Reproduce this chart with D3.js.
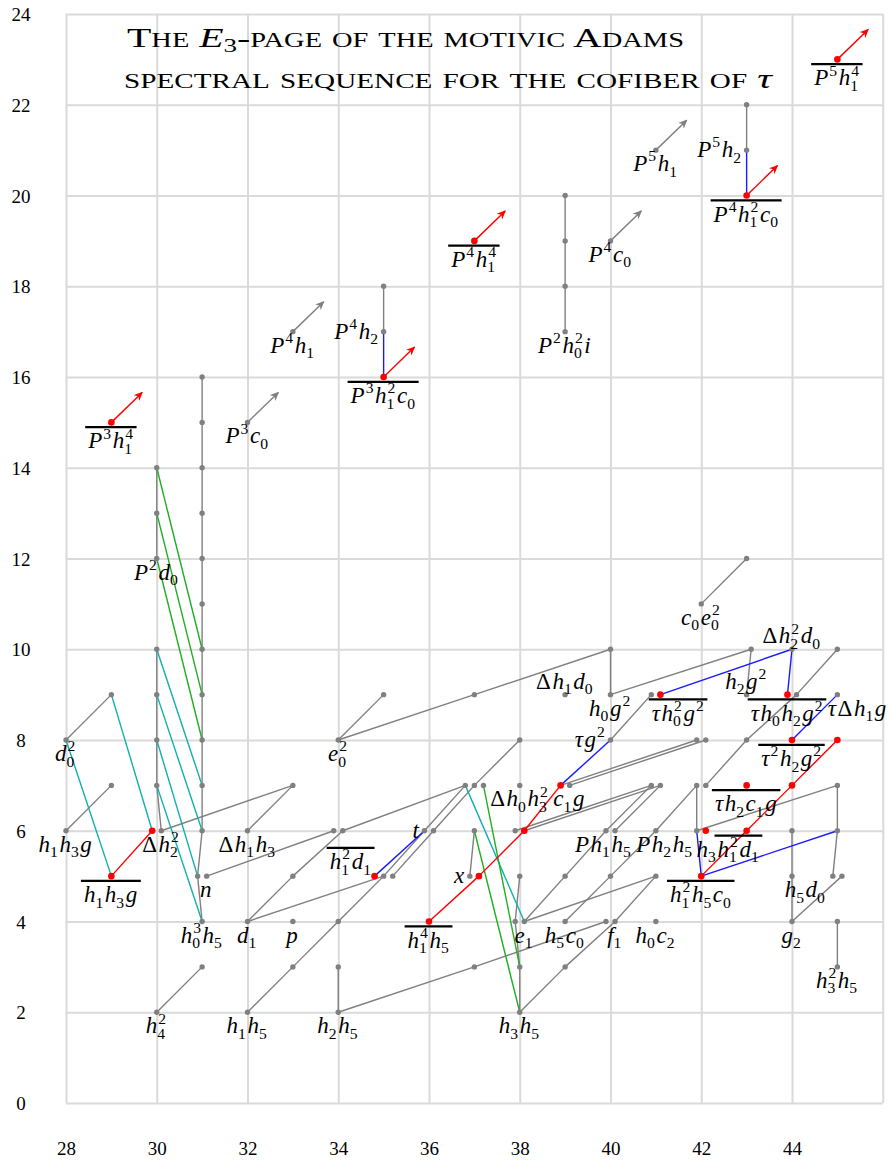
<!DOCTYPE html>
<html>
<head>
<meta charset="utf-8">
<script src="https://cdn.jsdelivr.net/npm/d3@7"></script>
<style>
  body { margin: 0; background: #fff; }
  svg { display: block; }
</style>
</head>
<body>
<div id="chart"></div>
<script>
// ---- data: (stem, filtration) ----
var xTicks = [28, 30, 32, 34, 36, 38, 40, 42, 44];
var yTicks = [0, 2, 4, 6, 8, 10, 12, 14, 16, 18, 20, 22, 24];
var gridX = [28, 30, 32, 34, 36, 38, 40, 42, 44, 46];

var grayDots = [
  [28,8],[28,6],[29,9],[29,7],
  [30,7],[30,8],[30,9],[30,10],[30.1,6],[30,12],[30,13],[30,14],[30,2],
  [31,3],[31,4],[30.9,5],[31.1,5],[31,6],[31,7],[31,8],[31,9],[31,10],[31,11],[31,12],[31,13],[31,14],[31,15],[31,16],
  [32,2],[32,4],[32,6],[32,15],
  [33,3],[33,4],[33,5],[33,7],[33,17],
  [34,2],[34,3],[34,4],[33.9,6],[34.1,6],[34,8],
  [35,5],[35.2,5],[35,9],[35,17],[35,18],
  [35.9,6],[36.1,6],
  [36.8,7],[37,7],[37.2,7],[37,6],[36.9,5],[37,3],[37,9],
  [38,2],[38,3],[37.9,4],[38.1,4],[38,5],[37.9,6],[38,7],[38,8],
  [39,3],[39,4],[39,5],[39.1,7],[39,9],[39,17],[39,18],[39,19],[39,20],
  [39.9,4],[40.1,4],[40,5],[39.9,6],[40.1,6],[40,8],[40,9],[40,10],[40,19],
  [41,4],[41,5],[41,6],[40.9,7],[41.1,7],[40.9,9],[41,21],
  [41.9,6],[41.9,7],[42.1,7],[41.9,8],[42.1,8],[42,11],
  [43,8],[43,9],[43.1,10],[43,12],[43,21],[43,22],
  [44,4],[44,5],[44,6],[44.1,9],[44,10],
  [45,3],[45,4],[44.9,5],[45.1,5],[45,6],[45,7],[45,9],[45,10]
];
var redDots = [
  [29,5],[29,15],[29.9,6],[34.8,5],[35,16],[36,4],[37.1,5],[37,19],[38.1,6],[38.9,7],
  [41.1,9],[42,5],[42.1,6],[43,6],[43,7],[43,20],[44,7],[44,8],[43.9,9],[45,8],[45,23]
];
var grayArrows = [[32,15],[33,17],[40,19],[41,21]];
var redArrows = [[29,15],[35,16],[37,19],[43,20],[45,23]];

// h0 towers
var h0Lines = [
  [[30.1,6],[30,7]],[[30,7],[30,8]],[[30,8],[30,9]],[[30,9],[30,10]],
  [[30,12],[30,13]],[[30,13],[30,14]],
  [[31,4],[30.9,5]],[[30.9,5],[31,6]],[[31,6],[31,7]],[[31,7],[31,8]],[[31,8],[31,9]],[[31,9],[31,10]],
  [[31,10],[31,11]],[[31,11],[31,12]],[[31,12],[31,13]],[[31,13],[31,14]],[[31,14],[31,15]],[[31,15],[31,16]],
  [[34,2],[34,3]],[[35,17],[35,18]],
  [[38,2],[38,3]],[[38,3],[37.9,4]],[[37.9,4],[38,5]],[[36.9,5],[37,6]],
  [[39,17],[39,18]],[[39,18],[39,19]],[[39,19],[39,20]],
  [[40,9],[40,10]],[[43,21],[43,22]],[[43,9],[43.1,10]],[[41.9,6],[41.9,7]],
  [[44,4],[44,5]],[[44,5],[44,6]],[[45,3],[45,4]],[[44.9,5],[45,6]],[[45,6],[45,7]]
];
// h1 multiplications
var h1Lines = [
  [[28,8],[29,9]],[[28,6],[29,7]],[[30,2],[31,3]],
  [[32,2],[33,3]],[[33,3],[34,4]],[[34,4],[35,5]],[[35,5],[35.9,6]],[[35.9,6],[36.8,7]],
  [[35.2,5],[36.1,6]],[[36.1,6],[37,7]],[[37,7],[38,8]],
  [[32,4],[33,5]],[[33,5],[34.1,6]],[[32,6],[33,7]],[[34,8],[35,9]],
  [[38,2],[39,3]],[[39,3],[40.1,4]],[[40.1,4],[41,5]],
  [[38.1,4],[39,5]],[[39,5],[39.9,6]],[[39,4],[40,5]],[[40,5],[41,6]],[[41,6],[41.9,7]],
  [[40,8],[40.9,9]],[[42,11],[43,12]],[[42.1,7],[43,8]],[[43,8],[44.1,9]],[[44.1,9],[45,10]],
  [[44,4],[45.1,5]],[[39.9,6],[40.9,7]],[[40.1,6],[41.1,7]]
];
// h2 multiplications
var h2Lines = [
  [[30.1,6],[33,7]],[[31.1,5],[33.9,6]],[[32,4],[35,5]],[[34.1,6],[36.8,7]],
  [[34,8],[37,9]],[[37,9],[40,10]],[[34,2],[37,3]],[[37,3],[39.9,4]],[[38.1,4],[41,5]],
  [[37.9,6],[40.9,7]],[[38.1,6],[41.1,7]],[[38.9,7],[41.9,8]],[[39.1,7],[42.1,8]],
  [[40,9],[43.1,10]],[[41.9,6],[45,7]]
];
var blueLines = [
  [[35,16],[35,17]],[[43,20],[43,21]],[[34.8,5],[35.9,6]],[[38.9,7],[40,8]],
  [[41.1,9],[44,10]],[[43.9,9],[44,10]],[[44,8],[45,9]],[[42,5],[41.9,6]],[[42,5],[45,6]]
];
var redLines = [
  [[29,5],[29.9,6]],[[36,4],[37.1,5]],[[37.1,5],[38.1,6]],[[38.1,6],[38.9,7]],
  [[42,5],[43,6]],[[43,6],[44,7]],[[44,7],[45,8]]
];
var d3Lines = [
  [[28,8],[29,5]],[[29,9],[29.9,6]],[[30,10],[31,7]],[[30,9],[31,6]],[[30,8],[30.9,5]],[[30,7],[31,4]],
  [[36.8,7],[38.1,4]]
];
var d4Lines = [
  [[30,12],[31,8]],[[30,13],[31,9]],[[30,14],[31,10]],[[37,6],[38,2]],[[37.2,7],[38,3]]
];

// labels: stem, filtration, name, side
var labels = [
  [28,8,'d_0^2','b'],[28,6,'h_1h_3g','b'],[29,5,'\\overline{h_1h_3g}','b'],[29,15,'\\overline{P^3h_1^4}','b'],
  [30.1,6,'\\Delta h_2^2','b'],[30,12,'P^2d_0','b'],[30,2,'h_4^2','b'],[31,4,'h_0^3h_5','b'],[31.1,5,'n','b'],
  [32,2,'h_1h_5','b'],[32,4,'d_1','b'],[32,6,'\\Delta h_1h_3','b'],[32,15,'P^3c_0','b'],
  [33,4,'p','b'],[33,17,'P^4h_1','b'],[34,2,'h_2h_5','b'],[34,8,'e_0^2','b'],
  [34.8,5,'\\overline{h_1^2d_1}','ul'],[35,17,'P^4h_2','l'],[35,16,'\\overline{P^3h_1^2c_0}','b'],
  [35.9,6,'t','l'],[36,4,'\\overline{h_1^4h_5}','b'],[36.9,5,'x','l'],[37,19,'\\overline{P^4h_1^4}','b'],
  [38,7,'\\Delta h_0h_3^2','b'],[39.1,7,'c_1g','b'],[38,2,'h_3h_5','b'],[38.1,4,'e_1','b'],
  [39,4,'h_5c_0','b'],[39,9,'\\Delta h_1d_0','a'],[39,17,'P^2h_0^2i','b'],
  [40.1,4,'f_1','b'],[39.85,6,'Ph_1h_5','b'],[41.2,6,'Ph_2h_5','b'],[40,8,'\\tau g^2','l'],
  [40,9,'h_0g^2','b'],[40,19,'P^4c_0','b'],[41,4,'h_0c_2','b'],[41.5,9,'\\overline{\\tau h_0^2g^2}','b'],
  [41,21,'P^5h_1','b'],[42,5,'\\overline{h_1^2h_5c_0}','b'],[42.6,6,'h_3\\overline{h_1^2d_1}','b'],
  [42,11,'c_0e_0^2','b'],[43,7,'\\overline{\\tau h_2c_1g}','b'],[43,9,'h_2g^2','a'],
  [43,20,'\\overline{P^4h_1^2c_0}','b'],[43,21,'P^5h_2','l'],[44,4,'g_2','b'],[44.3,5,'h_5d_0','b'],
  [44,8,'\\overline{\\tau^2h_2g^2}','b'],[43.9,9,'\\overline{\\tau h_0h_2g^2}','b'],[44,10,'\\Delta h_2^2d_0','a'],
  [45,3,'h_3^2h_5','b'],[45.45,9,'\\tau\\Delta h_1g','b'],[45,23,'\\overline{P^5h_1^4}','b']
];

// ---- drawing ----
var W = 892, H = 1163;
var x = d3.scaleLinear().domain([28, 46]).range([66, 882.75]);
var y = d3.scaleLinear().domain([0, 24]).range([1103, 14]);
var FONT = '"Liberation Serif", "DejaVu Serif", serif';
var gridColor = '#dadada';
var grayC = '#808080', redC = '#ff0000', blueC = '#1a1aff', cyanC = '#10b0b0', greenC = '#22b022';

var svg = d3.select('#chart').append('svg')
  .attr('width', W).attr('height', H)
  .style('font-family', FONT);

// grid + tick labels via axes
svg.append('g')
  .attr('transform', 'translate(0,' + y(0) + ')')
  .call(d3.axisBottom(x).tickValues(gridX).tickSize(-(y(0) - y(24))).tickFormat(d => d < 46 ? d : ''))
  .call(g => g.select('.domain').remove())
  .call(g => g.selectAll('.tick line').attr('stroke', gridColor).attr('stroke-width', 2))
  .call(g => g.selectAll('.tick text').attr('y', 45).attr('dy', '0.35em')
      .attr('font-size', 19).attr('font-family', FONT).attr('fill', '#000'));

svg.append('g')
  .attr('transform', 'translate(' + x(28) + ',0)')
  .call(d3.axisLeft(y).tickValues(yTicks).tickSize(-(x(46) - x(28))))
  .call(g => g.select('.domain').remove())
  .call(g => g.selectAll('.tick line').attr('stroke', gridColor).attr('stroke-width', 2))
  .call(g => g.selectAll('.tick text').attr('x', -45).attr('text-anchor', 'middle').attr('dy', '0.35em')
      .attr('font-size', 19).attr('font-family', FONT).attr('fill', '#000'));

// arrow markers
var defs = svg.append('defs');
[['ag', grayC], ['ar', redC]].forEach(function(m) {
  defs.append('marker').attr('id', m[0]).attr('viewBox', '0 -5 10 10')
    .attr('refX', 9).attr('refY', 0).attr('markerWidth', 9).attr('markerHeight', 9)
    .attr('markerUnits', 'userSpaceOnUse').attr('orient', 'auto')
    .append('path').attr('d', 'M0,-4.5L10,0L0,4.5L3,0Z').attr('fill', m[1]);
});

function drawLines(data, color) {
  svg.append('g').selectAll('line').data(data).join('line')
    .attr('x1', d => x(d[0][0])).attr('y1', d => y(d[0][1]))
    .attr('x2', d => x(d[1][0])).attr('y2', d => y(d[1][1]))
    .attr('stroke', color).attr('stroke-width', 1.4);
}
drawLines(h0Lines, grayC);
drawLines(h1Lines, grayC);
drawLines(h2Lines, grayC);
drawLines(d3Lines, cyanC);
drawLines(d4Lines, greenC);
drawLines(blueLines, blueC);
drawLines(redLines, redC);

function drawArrows(data, color, id) {
  svg.append('g').selectAll('line').data(data).join('line')
    .attr('x1', d => x(d[0])).attr('y1', d => y(d[1]))
    .attr('x2', d => x(d[0] + 0.68)).attr('y2', d => y(d[1] + 0.66))
    .attr('stroke', color).attr('stroke-width', 1.4)
    .attr('marker-end', 'url(#' + id + ')');
}
drawArrows(grayArrows, grayC, 'ag');
drawArrows(redArrows, redC, 'ar');

svg.append('g').selectAll('circle').data(grayDots).join('circle')
  .attr('cx', d => x(d[0])).attr('cy', d => y(d[1])).attr('r', 2.7).attr('fill', grayC);
svg.append('g').selectAll('circle').data(redDots).join('circle')
  .attr('cx', d => x(d[0])).attr('cy', d => y(d[1])).attr('r', 3.3).attr('fill', redC);

// ---- little TeX-ish label renderer ----
var greek = { Delta: '\u0394', tau: '\u03c4' };
function parseTex(s) {
  var i = 0;
  function seq(end) {
    var out = [];
    while (i < s.length && s[i] !== end) {
      if (s.startsWith('\\overline', i)) {
        i += 10;
        var kids = seq('}');
        i++;
        out.push({ over: true, kids: kids });
        continue;
      }
      var atom;
      if (s[i] === '\\') {
        var m = /^\\([a-zA-Z]+)/.exec(s.slice(i));
        i += m[0].length;
        if (s[i] === ' ') i++;
        atom = { t: greek[m[1]], it: m[1] === 'tau' };
      } else {
        atom = { t: s[i], it: /[a-zA-Z]/.test(s[i]) };
        i++;
      }
      while (s[i] === '_' || s[i] === '^') {
        var k = s[i]; i++;
        var txt;
        if (s[i] === '{') { var j = s.indexOf('}', i); txt = s.slice(i + 1, j); i = j + 1; }
        else { txt = s[i]; i++; }
        atom[k === '_' ? 'sub' : 'sup'] = txt;
      }
      out.push(atom);
    }
    return out;
  }
  return seq(null);
}

function drawTex(g, str, fs) {
  var cx = 0, overs = [];
  function walk(list) {
    list.forEach(function(it) {
      if (it.over) {
        var x0 = cx; walk(it.kids); overs.push([x0, cx]); return;
      }
      var t = g.append('text').attr('x', cx).attr('y', 0).attr('font-size', fs)
        .attr('font-style', it.it ? 'italic' : 'normal').text(it.t);
      cx += t.node().getComputedTextLength();
      var sw = 0;
      if (it.sup) {
        var a = g.append('text').attr('x', cx + 1).attr('y', -fs * 0.42).attr('font-size', fs * 0.68).text(it.sup);
        sw = Math.max(sw, a.node().getComputedTextLength() + 1);
      }
      if (it.sub) {
        var b = g.append('text').attr('x', cx).attr('y', fs * 0.24).attr('font-size', fs * 0.68).text(it.sub);
        sw = Math.max(sw, b.node().getComputedTextLength());
      }
      cx += sw + 1.6;
    });
  }
  walk(parseTex(str));
  overs.forEach(function(o) {
    g.append('line').attr('x1', o[0] - 3).attr('x2', o[1] + 2)
      .attr('y1', -fs * 0.92).attr('y2', -fs * 0.92)
      .attr('stroke', '#000').attr('stroke-width', 2.2);
  });
  return cx;
}

var LFS = 23;
var labelLayer = svg.append('g');
labels.forEach(function(d) {
  var g = labelLayer.append('g');
  var w = drawTex(g, d[2], LFS);
  var px = x(d[0]), py = y(d[1]), tx, ty;
  var over = d[2].indexOf('overline') >= 0;
  if (d[3] === 'b') { tx = px - w / 2; ty = py + (over ? 26 : 21); }
  else if (d[3] === 'a') { tx = px - w / 2; ty = py - 6; }
  else if (d[3] === 'l') { tx = px - w - 4; ty = py + 7; }
  else if (d[3] === 'ul') { tx = px - w - 2; ty = py - 7; }
  else { tx = px + 6; ty = py + 7; }
  g.attr('transform', 'translate(' + tx + ',' + ty + ')');
});

// ---- title ----
var title = svg.append('g').attr('font-size', 28);
var t1 = title.append('text').attr('x', 127).attr('y', 47)
  .attr('textLength', 557).attr('lengthAdjust', 'spacingAndGlyphs');
t1.append('tspan').style('font-variant', 'small-caps').text('The ');
t1.append('tspan').attr('font-style', 'italic').text('E');
t1.append('tspan').attr('font-size', 19).attr('dy', 5).text('3');
t1.append('tspan').attr('dy', -5).style('font-variant', 'small-caps').text('-page of the motivic Adams');
var t2 = title.append('text').attr('x', 124).attr('y', 88)
  .attr('textLength', 648).attr('lengthAdjust', 'spacingAndGlyphs');
t2.append('tspan').style('font-variant', 'small-caps').text('spectral sequence for the cofiber of ');
t2.append('tspan').attr('font-style', 'italic').text('\u03c4');
</script>
</body>
</html>
